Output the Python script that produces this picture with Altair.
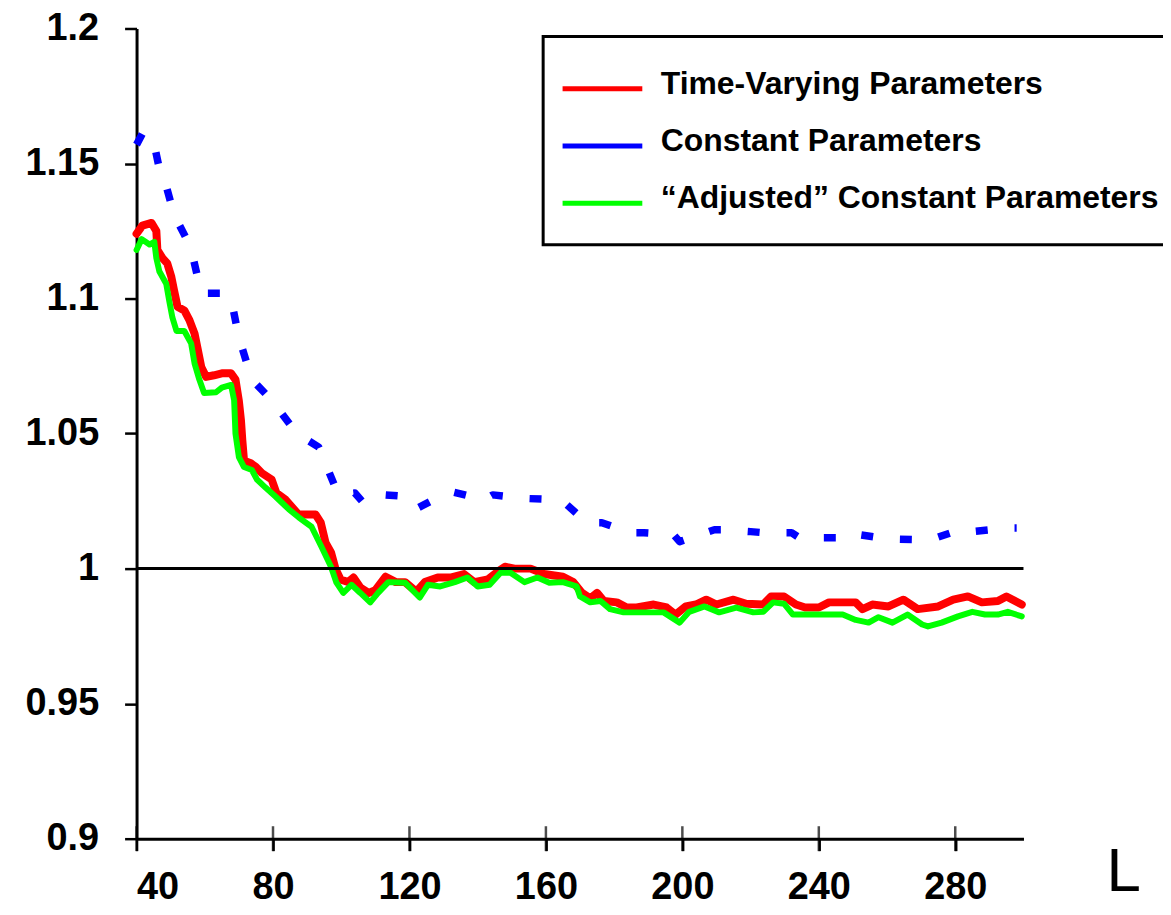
import altair as alt
import pandas as pd

# ---- data ----
SERIES = ["Time-Varying Parameters", "Constant Parameters", "\u201cAdjusted\u201d Constant Parameters"]
COLORS = ["#ff0000", "#0000ff", "#00ff00"]

L_TV = [40, 41.7, 44.4, 45.8, 46.1, 47.6, 49, 50.2, 51, 52, 54, 55.5, 57, 57.8, 59, 60.4, 62.7, 65, 67.7, 69,
        70, 70.6, 71, 71.5, 73.5, 75, 76.7, 79.6, 81, 83.7, 87.5, 92.5, 94, 95.4, 97, 98.3, 99.8, 102, 103.6, 105.6,
        108, 110, 113, 116, 118.7, 122, 124.5, 128.3, 132, 136, 139, 143, 146, 148, 150.8, 155.5, 159.5, 165, 168,
        170.6, 173, 175, 177, 180.8, 183.7, 186.6, 191.6, 195.4, 198, 201, 204, 207, 210, 215, 218.7, 223.7, 226,
        229.8, 233.3, 236, 240, 243, 250.8, 252.8, 255.7, 260.4, 264.8, 269, 275, 279.4, 283.7, 287.8, 292.5, 295,
        299.5]
Y_TV = [1.124, 1.127, 1.128, 1.125, 1.118, 1.115, 1.113, 1.108, 1.103, 1.097, 1.0956, 1.092, 1.087, 1.082, 1.0745,
        1.071, 1.0716, 1.0723, 1.0723, 1.07, 1.062, 1.055, 1.0476, 1.040, 1.039, 1.0376, 1.0354, 1.033, 1.028, 1.0255,
        1.020, 1.020, 1.017, 1.0096, 1.006, 1.0, 0.996, 0.995, 0.9967, 0.993, 0.991, 0.992, 0.997, 0.995, 0.995,
        0.9915, 0.995, 0.9967, 0.9967, 0.998, 0.995, 0.996, 0.999, 1.0007, 1.0, 1.0, 0.998, 0.997, 0.995, 0.991,
        0.989, 0.991, 0.988, 0.9875, 0.9856, 0.9856, 0.9867, 0.9856, 0.983, 0.986, 0.9867, 0.9885, 0.9867, 0.9885,
        0.987, 0.9867, 0.9897, 0.9897, 0.9867, 0.9856, 0.9856, 0.9875, 0.9875, 0.985, 0.9867, 0.986, 0.9885, 0.985,
        0.986, 0.9885, 0.9897, 0.9875, 0.988, 0.9897, 0.9867]

L_CP = [40, 41.7, 44.7, 46.7, 48.2, 51, 55.5, 56.3, 59, 66.2, 67.7, 70, 73.8, 79.6, 87, 93.4, 98.3, 99.2, 104,
        106.5, 111.4, 113, 120, 122.5, 129.8, 132.7, 142, 144.4, 153.7, 163.3, 166.2, 172, 176.4, 185, 188.7, 197.4,
        199.2, 209.4, 212, 220, 223.7, 232, 234.3, 245, 248, 256, 260, 271, 272.7, 281.4, 285, 295.4, 298]
Y_CP = [1.157, 1.161, 1.160, 1.148, 1.144, 1.131, 1.120, 1.1166, 1.102, 1.102, 1.100, 1.0856, 1.070, 1.0624, 1.050,
        1.045, 1.030, 1.0273, 1.028, 1.0244, 1.0255, 1.0273, 1.0266, 1.0225, 1.0273, 1.0284, 1.0255, 1.0273, 1.026,
        1.0255, 1.0236, 1.017, 1.017, 1.0133, 1.0133, 1.0126, 1.010, 1.0144, 1.0144, 1.0137, 1.0133, 1.0133, 1.0114,
        1.0114, 1.0133, 1.0118, 1.011, 1.0107, 1.0107, 1.0144, 1.0137, 1.015, 1.015]

L_AC = [40, 41.5, 43.8, 45.2, 45.8, 46.7, 48.7, 49.6, 50.5, 51.7, 54, 56, 57, 58.4, 59.8, 63.3, 65, 67.7, 68.6, 69,
        70, 71.5, 73.8, 75.3, 77.8, 80.8, 84.6, 87.5, 91.3, 94.2, 97, 98.6, 100.6, 103, 105.6, 108.5, 110.8, 113.8,
        118.7, 123, 125.4, 129, 133.3, 137, 140, 143.5, 146.7, 149.6, 153.7, 157.5, 161, 165, 169, 170, 173, 176,
        178.8, 182.8, 188.7, 194.5, 199.2, 202, 206.5, 210.8, 215.8, 220.8, 223.7, 226.6, 229.8, 232.4, 236, 241,
        247, 250.8, 254.6, 257.5, 261.6, 266, 270.3, 272, 276, 280.8, 285, 288.7, 292.5, 295.4, 299.5]
Y_AC = [1.118, 1.122, 1.120, 1.121, 1.115, 1.110, 1.1055, 1.099, 1.093, 1.088, 1.088, 1.0834, 1.076, 1.070, 1.065,
        1.0653, 1.067, 1.068, 1.0624, 1.050, 1.0413, 1.0376, 1.0365, 1.033, 1.030, 1.0266, 1.022, 1.019, 1.0155,
        1.0081, 1.0007, 0.9948, 0.991, 0.994, 0.991, 0.9875, 0.991, 0.995, 0.9948, 0.9893, 0.994, 0.9934, 0.995,
        0.9967, 0.9934, 0.994, 0.9985, 0.9985, 0.995, 0.9967, 0.9948, 0.995, 0.9934, 0.9897, 0.9875, 0.988, 0.985,
        0.9838, 0.9838, 0.9838, 0.980, 0.984, 0.986, 0.9838, 0.9856, 0.9838, 0.984, 0.9875, 0.987, 0.983, 0.983,
        0.983, 0.983, 0.981, 0.980, 0.982, 0.980, 0.983, 0.9793, 0.9786, 0.980, 0.9823, 0.984, 0.983, 0.983, 0.984,
        0.9823]

X_TICKS = [40, 80, 120, 160, 200, 240, 280]
Y_TICKS = [0.9, 0.95, 1.0, 1.05, 1.1, 1.15, 1.2]
REFERENCE = [1.0]

frames = []
for name, xs, ys in zip(SERIES, [L_TV, L_CP, L_AC], [Y_TV, Y_CP, Y_AC]):
    frames.append(pd.DataFrame({"L": xs, "v": ys, "series": name, "order": range(len(xs))}))
df = pd.concat(frames, ignore_index=True)
ticks_df = pd.DataFrame({"t": X_TICKS, "base": [0.9] * len(X_TICKS)})
ref_df = pd.DataFrame({"r": REFERENCE})

FONT = "Liberation Sans"
x_scale = alt.Scale(domain=[40, 300], nice=False, zero=False)
y_scale = alt.Scale(domain=[0.9, 1.2], nice=False, zero=False)

x_axis = alt.Axis(values=X_TICKS, title="L", grid=False, domainColor="black", domainWidth=3,
                  tickColor="black", tickWidth=2.5, tickSize=12, labelPadding=18,
                  labelFont=FONT, labelFontSize=38, labelFontWeight="bold", labelColor="black",
                  titleFont=FONT, titleFontSize=62, titleFontWeight="normal", titleColor="black",
                  titleX=990, titleY=52, titleBaseline="alphabetic", titleAlign="center", titleAngle=0)
y_axis = alt.Axis(values=Y_TICKS, title=None, grid=False, format="~g", domainColor="black", domainWidth=3,
                  tickColor="black", tickWidth=2.5, tickSize=12, labelPadding=26,
                  labelFont=FONT, labelFontSize=38, labelFontWeight="bold", labelColor="black")

legend = alt.Legend(title=" ", titleOrient="bottom", titleFontSize=20, titlePadding=0,
                    orient="none", legendX=408, legendY=8,
                    strokeColor="black", padding=10, rowPadding=3.5,
                    symbolType="M-0.8,0.14H1.486", symbolSize=4900,
                    symbolStrokeWidth=5, symbolDash=[1, 0], labelOffset=33, labelLimit=900,
                    labelFont=FONT, labelFontSize=32, labelFontWeight="bold", labelColor="black")

color = alt.Color("series:N", scale=alt.Scale(domain=SERIES, range=COLORS), legend=legend)

base = alt.Chart(df)


def series_layer(name, width, dash=None):
    kw = dict(strokeWidth=width, strokeJoin="round")
    if dash:
        kw["strokeDash"] = dash
        kw["strokeCap"] = "butt"
    else:
        kw["strokeCap"] = "round"
    return base.transform_filter(alt.datum.series == name).mark_line(**kw).encode(
        x=alt.X("L:Q", scale=x_scale, axis=x_axis),
        y=alt.Y("v:Q", scale=y_scale, axis=y_axis),
        color=color,
        order="order:Q",
    )


red = series_layer(SERIES[0], 8)
blue = series_layer(SERIES[1], 7.5, [12, 27])
green = series_layer(SERIES[2], 6)

rule = alt.Chart(ref_df).mark_rule(color="black", strokeWidth=3).encode(y=alt.Y("r:Q", scale=y_scale))

xticks = alt.Chart(ticks_df).mark_tick(orient="vertical", size=25, thickness=2.5, color="black").encode(
    x=alt.X("t:Q", scale=x_scale), y=alt.Y("base:Q", scale=y_scale))

chart = alt.layer(red, blue, green, rule, xticks).properties(
    width=890, height=813,
    padding={"left": 129, "top": 19, "right": 140, "bottom": 68},
    autosize=alt.AutoSizeParams(type="none"),
    background="white",
).configure_view(stroke=None).configure_legend(strokeWidth=3)

chart.save("out.html", embed_options={"renderer": "svg", "actions": False})
